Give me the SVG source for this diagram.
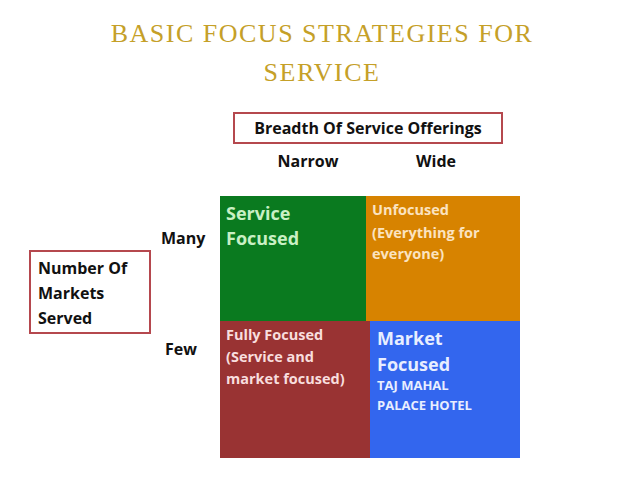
<svg xmlns="http://www.w3.org/2000/svg" width="638" height="479" viewBox="0 0 638 479">
<style>
.t{font-family:"Liberation Serif",serif;font-size:26px;fill:#c5a028;letter-spacing:1.5px;text-anchor:middle}
.b{font-family:"Open Sans","DejaVu Sans",sans-serif;font-weight:bold;fill:#111}
.box{fill:#fff;stroke:#b5484e;stroke-width:2}
.c{font-family:"Open Sans","DejaVu Sans",sans-serif;font-weight:bold}
</style>
<rect width="638" height="479" fill="#fff"/>
<text class="t" x="322" y="42">BASIC FOCUS STRATEGIES FOR</text>
<text class="t" x="322" y="81">SERVICE</text>
<g id="breadth"><rect class="box" x="234" y="113" width="268" height="30"/><text class="b" x="368" y="134" font-size="16" text-anchor="middle">Breadth Of Service Offerings</text></g>
<g id="axis-labels">
<text class="b" x="308" y="167" font-size="16" text-anchor="middle">Narrow</text>
<text class="b" x="436" y="167" font-size="16" text-anchor="middle">Wide</text>
<text class="b" x="161" y="244" font-size="16">Many</text>
<text class="b" x="165" y="355" font-size="16">Few</text>
</g>
<g id="markets"><rect class="box" x="30" y="251" width="120" height="82"/><text class="b" font-size="16"><tspan x="38" y="274">Number Of</tspan><tspan x="38" y="299">Markets</tspan><tspan x="38" y="324">Served</tspan></text></g>
<g id="service-focused"><rect x="220" y="196" width="146" height="125" fill="#0a7a1f"/><text class="c" font-size="18" fill="#c9f0c4"><tspan x="226" y="220">Service</tspan><tspan x="226" y="245">Focused</tspan></text></g>
<g id="unfocused"><rect x="366" y="196" width="154" height="125" fill="#d78300"/><text class="c" font-size="14.5" fill="#fbe3c0"><tspan x="372" y="215">Unfocused</tspan><tspan x="372" y="238">(Everything for</tspan><tspan x="372" y="259">everyone)</tspan></text></g>
<g id="fully-focused"><rect x="220" y="321" width="150" height="137" fill="#993333"/><text class="c" font-size="14.5" fill="#f8dede"><tspan x="226" y="340">Fully Focused</tspan><tspan x="226" y="362">(Service and</tspan><tspan x="226" y="384">market focused)</tspan></text></g>
<g id="market-focused"><rect x="370" y="321" width="150" height="137" fill="#3366ee"/><text class="c" font-size="18" fill="#e8eeff"><tspan x="377" y="345">Market</tspan><tspan x="377" y="371">Focused</tspan></text><text class="c" font-size="13" fill="#e8eeff"><tspan x="377" y="390">TAJ MAHAL</tspan><tspan x="377" y="410">PALACE HOTEL</tspan></text></g>
<g id="connectors"/>
</svg>
